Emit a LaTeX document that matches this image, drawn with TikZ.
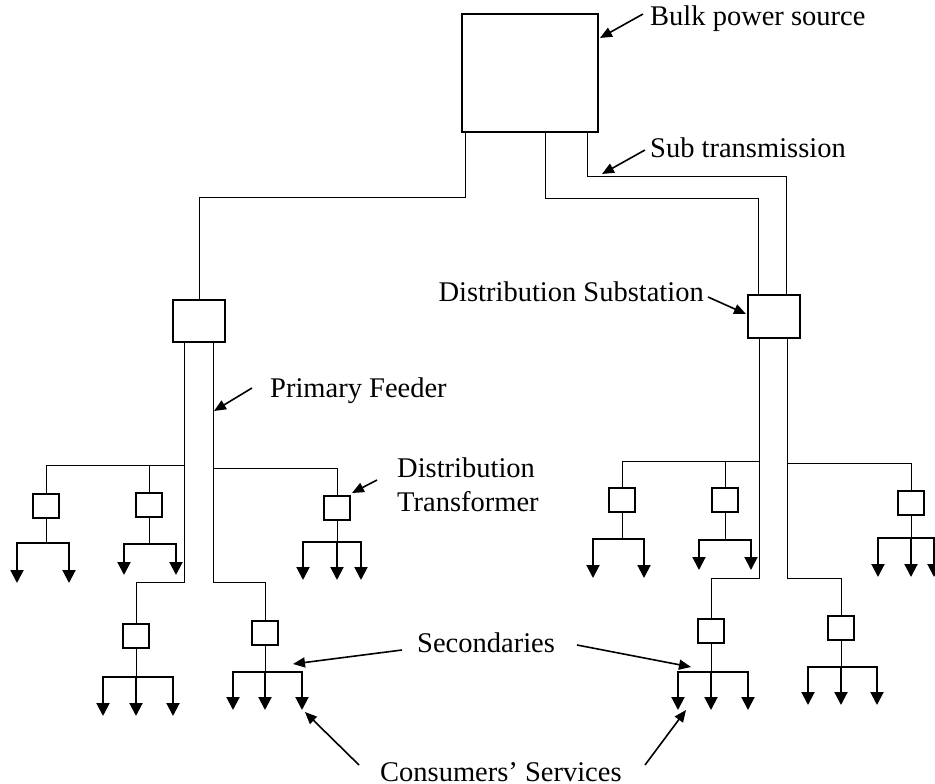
\documentclass[tikz,border=0pt]{standalone}
\usepackage{fontspec}
\setmainfont{Liberation Serif}
\usetikzlibrary{arrows.meta}
\newcommand\svcdrop[3]{\draw[service] (#1,#2) -- (#1,#3);}
\begin{document}
\begin{tikzpicture}[x=1pt,y=-1pt,
  bigbox/.style={draw,line width=2pt,inner sep=0pt},
  xfbox/.style={draw,line width=2pt,inner sep=0pt,minimum width=26pt,minimum height=24pt},
  feeder/.style={line width=1pt},
  stem/.style={line width=1pt},
  bus/.style={line width=1.6pt,line cap=rect},
  service/.style={line width=2pt,-{Triangle[length=13pt,width=13pt]}},
  note/.style={line width=1.6pt,-{Triangle[length=12pt,width=10pt]}},
  lbl/.style={font=\fontsize{28.5}{34}\selectfont,inner sep=0pt},
]
\useasboundingbox (0,0) rectangle (935,784);

% main boxes
\node[bigbox,minimum width=136pt,minimum height=118pt] (bulk) at (530,73) {};
\node[bigbox,minimum width=52pt,minimum height=42pt] (lsub) at (199,321) {};
\node[bigbox,minimum width=52pt,minimum height=43pt] (rsub) at (774,316.5) {};

% distribution transformers
\node[xfbox] (T1) at (46,506) {};
\node[xfbox] (T2) at (149,505) {};
\node[xfbox] (T3) at (337,508) {};
\node[xfbox] (T4) at (136,636) {};
\node[xfbox] (T5) at (265,633) {};
\node[xfbox] (R1) at (622,500) {};
\node[xfbox] (R2) at (725,500) {};
\node[xfbox] (R3) at (911,503) {};
\node[xfbox] (R4) at (711,631) {};
\node[xfbox] (R5) at (841,628) {};

% sub transmission
\draw[feeder] ([xshift=-65pt]bulk.south) -- ++(0,64) -| (lsub.north);
\draw[feeder] ([xshift=15pt]bulk.south) -- ++(0,65) -| ([xshift=-16pt]rsub.north);
\draw[feeder] ([xshift=57pt]bulk.south) -- ++(0,43) -| ([xshift=12pt]rsub.north);

% left primary feeders
\coordinate (la) at ([xshift=-15pt]lsub.south);
\coordinate (lb) at ([xshift=14pt]lsub.south);
\draw[feeder] (la) -- (la |- 0,582) -| (T4.north);
\draw[feeder] (lb) -- (lb |- 0,582) -| (T5.north);
\draw[feeder] (la |- 0,465) -| (T1.north);
\draw[feeder] (T2.north) -- (T2.north |- 0,465);
\draw[feeder] (lb |- 0,468) -| (T3.north);

% right primary feeders
\coordinate (ra) at ([xshift=-15pt]rsub.south);
\coordinate (rb) at ([xshift=13pt]rsub.south);
\draw[feeder] (ra) -- (ra |- 0,578) -| (R4.north);
\draw[feeder] (rb) -- (rb |- 0,578) -| (R5.north);
\draw[feeder] (ra |- 0,461) -| (R1.north);
\draw[feeder] (R2.north) -- (R2.north |- 0,461);
\draw[feeder] (rb |- 0,463) -| (R3.north);

% secondaries and services
\draw[stem] (T1.south) -- (T1.south |- 0,543); \draw[bus] (17,543) -- (69,543);
\svcdrop{17}{543}{583}\svcdrop{69}{543}{583}
\draw[stem] (T2.south) -- (T2.south |- 0,544); \draw[bus] (124,544) -- (176,544);
\svcdrop{124}{544}{575}\svcdrop{176}{544}{575}
\draw[stem] (T3.south) -- (T3.south |- 0,542); \draw[bus] (303,542) -- (361,542);
\svcdrop{303}{542}{580}\svcdrop{337}{542}{580}\svcdrop{361}{542}{580}
\draw[stem] (T4.south) -- (T4.south |- 0,677); \draw[bus] (103,677) -- (173,677);
\svcdrop{103}{677}{716}\svcdrop{136}{677}{716}\svcdrop{173}{677}{716}
\draw[stem] (T5.south) -- (T5.south |- 0,672); \draw[bus] (233,672) -- (302,672);
\svcdrop{233}{672}{710}\svcdrop{265}{672}{710}\svcdrop{302}{672}{710}
\draw[stem] (R1.south) -- (R1.south |- 0,539); \draw[bus] (593,539) -- (644,539);
\svcdrop{593}{539}{578}\svcdrop{644}{539}{578}
\draw[stem] (R2.south) -- (R2.south |- 0,540); \draw[bus] (699,540) -- (751,540);
\svcdrop{699}{540}{570}\svcdrop{751}{540}{570}
\draw[stem] (R3.south) -- (R3.south |- 0,538); \draw[bus] (878,538) -- (934,538);
\svcdrop{878}{538}{577}\svcdrop{911}{538}{577}\svcdrop{934}{538}{577}
\draw[stem] (R4.south) -- (R4.south |- 0,672); \draw[bus] (678,672) -- (748,672);
\svcdrop{678}{672}{710}\svcdrop{711}{672}{710}\svcdrop{748}{672}{710}
\draw[stem] (R5.south) -- (R5.south |- 0,667); \draw[bus] (808,667) -- (877,667);
\svcdrop{808}{667}{705}\svcdrop{841}{667}{705}\svcdrop{877}{667}{705}

% labels
\node[lbl,anchor=base west] (bulkl) at (650,26) {Bulk power source};
\node[lbl,anchor=base west] (subl) at (650,157) {Sub transmission};
\node[lbl,anchor=base east] (dsl) at (704,301) {Distribution Substation};
\node[lbl,anchor=base west] (pfl) at (270,397) {Primary Feeder};
\node[lbl,anchor=base west] (dtl1) at (397,477) {Distribution};
\node[lbl,anchor=base west] (dtl2) at (397,511) {Transformer};
\node[lbl,anchor=base west] (secl) at (417,652) {Secondaries};
\node[lbl,anchor=base west] (csl) at (380,781) {Consumers’ Services};

% annotation arrows
\coordinate (a1s) at (643,14);  \coordinate (a1e) at (600,38);
\coordinate (a2s) at (645,150); \coordinate (a2e) at (602,174);
\coordinate (a3s) at (708,297); \coordinate (a3e) at (746,314);
\coordinate (a4s) at (252,388); \coordinate (a4e) at (214,411);
\coordinate (a5s) at (377,480); \coordinate (a5e) at (352,493);
\coordinate (a6s) at (402,650); \coordinate (a6e) at (293,664);
\coordinate (a7s) at (577,645); \coordinate (a7e) at (691,667);
\coordinate (a8s) at (359,765); \coordinate (a8e) at (305,712);
\coordinate (a9s) at (645,765); \coordinate (a9e) at (686,710);
\foreach \i in {1,...,9} {\draw[note] (a\i s) -- (a\i e);}
\end{tikzpicture}
\end{document}
